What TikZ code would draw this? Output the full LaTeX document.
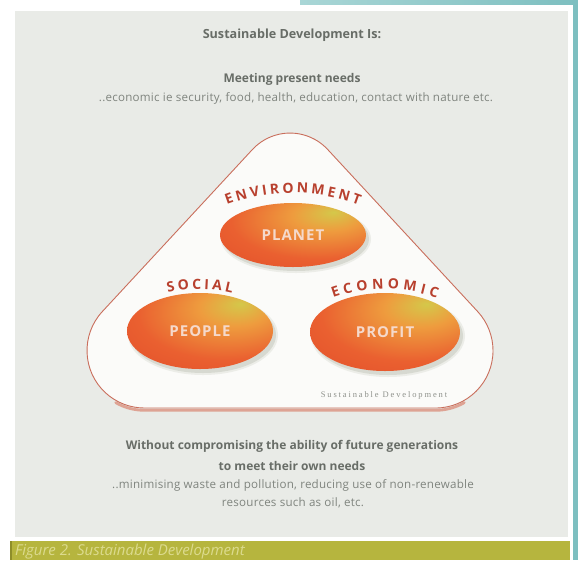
\documentclass[tikz,border=0pt]{standalone}
\usepackage{fontspec}
\setmainfont{Open Sans}
\newfontfamily\smallserif{Liberation Serif}
\usetikzlibrary{decorations.text,shapes.geometric}

\definecolor{panelgray}{HTML}{E9EBE7}
\definecolor{stripteal}{HTML}{7DBFC0}
\definecolor{striptealb}{HTML}{A9D6D6}
\definecolor{barolive}{HTML}{B6B53E}
\definecolor{barolivedark}{HTML}{8E8E2A}
\definecolor{captiontext}{HTML}{DCDB8E}
\definecolor{headtext}{HTML}{686D67}
\definecolor{bodytext}{HTML}{7F847E}
\definecolor{trianglefill}{HTML}{FBFBF9}
\definecolor{triangleline}{HTML}{C96E5C}
\definecolor{triangleband}{HTML}{DEA394}
\definecolor{labelred}{HTML}{B8402E}
\definecolor{orbhi}{HTML}{D4C84A}
\definecolor{orbmid}{HTML}{EE9C3E}
\definecolor{orbbody}{HTML}{EA6030}
\definecolor{orbedge}{HTML}{DE4628}
\definecolor{orbtext}{HTML}{F5D9CB}
\definecolor{orbshadow}{HTML}{A9AE9C}
\definecolor{notegray}{HTML}{8E918B}

% glossy orange ellipse, highlight towards the upper right
\pgfdeclareradialshading{orb}{\pgfpoint{14bp}{18bp}}{%
  color(0bp)=(orbhi); color(12bp)=(orbmid); color(30bp)=(orbbody);
  color(55bp)=(orbedge); color(80bp)=(orbedge)}

% rounded triangle outline
\def\trianglepath{(144.4,-408) -- (435.6,-408)
  arc[start angle=-90, end angle=42.8, radius=57.4] -- (327.7,-149.5)
  arc[start angle=42.8, end angle=137.2, radius=51.3] -- (102.3,-311.6)
  arc[start angle=137.2, end angle=270, radius=57.4] -- cycle}

% base of the triangle, for the soft band beneath it
\def\trianglebase{(115.7,-400.3) arc[start angle=240, end angle=270, radius=57.4]
  -- (435.6,-408) arc[start angle=-90, end angle=-60, radius=57.4]}

\tikzset{
  headline/.style={text=headtext, font=\bfseries\fontsize{12}{13}\selectfont, inner sep=0pt},
  bodyline/.style={text=bodytext, font=\fontsize{11.6}{13}\selectfont\addfontfeatures{LetterSpace=2}, inner sep=0pt},
  orb/.style={ellipse, inner sep=0pt, shade, shading=orb, text=orbtext,
    font=\bfseries\fontsize{15}{15}\selectfont\addfontfeatures{LetterSpace=7}},
  arclabel/.style={decorate, decoration={text along path, text align={fit to path},
    text color=labelred, text={|\bfseries\fontsize{14}{14}\selectfont|#1}}},
}

\begin{document}
\begin{tikzpicture}[x=1pt,y=1pt]
\useasboundingbox (0,0) rectangle (578,-560);
\fill[white] (0,0) rectangle (578,-560);

% frame strips
\shade[left color=striptealb, right color=stripteal] (300,0) rectangle (578,-4);
\fill[stripteal] (573,0) rectangle (578,-560);

% panel
\fill[panelgray] (15,-11) rectangle (568,-537);

% caption bar
\fill[barolive] (10,-541) rectangle (570,-560);
\fill[barolivedark] (10,-541) rectangle (12,-560);
\node[anchor=west, inner sep=0pt, text=captiontext,
  font=\itshape\fontsize{15}{15}\selectfont] (caption) at (15,-552)
  {Figure 2. Sustainable Development};

% headings
\node[headline, font=\bfseries\fontsize{12.6}{13}\selectfont] (title) at (292,-35) {Sustainable Development Is:};
\node[headline] (meet) at (292,-79) {Meeting present needs};
\node[bodyline] (meetnote) at (296,-98)
  {..economic ie security, food, health, education, contact with nature etc.};

% triangle with soft band beneath its base
\draw[triangleband, line width=2.8pt, line cap=round, shift={(0,-2.3)}] \trianglebase;
\filldraw[fill=trianglefill, draw=triangleline, line width=0.9pt] \trianglepath;

% ellipse positions
\coordinate (cplanet) at (293,-235);
\coordinate (cpeople) at (200,-331);
\coordinate (cprofit) at (385,-332);

% soft shadows
\foreach \c/\rx/\ry in {cplanet/73/32, cpeople/73/38, cprofit/75/39}{
  \fill[orbshadow, opacity=0.18] ([shift={(3,-4)}]\c) ellipse[x radius=\rx+2, y radius=\ry+2];
  \fill[orbshadow, opacity=0.30] ([shift={(3,-4)}]\c) ellipse[x radius=\rx, y radius=\ry];
}

\node[orb, minimum width=146pt, minimum height=64pt] (planet) at (cplanet) {PLANET};
\node[orb, minimum width=146pt, minimum height=76pt] (people) at (cpeople) {PEOPLE};
\node[orb, minimum width=150pt, minimum height=78pt] (profit) at (cprofit) {PROFIT};

% curved headings
\path[arclabel=ENVIRONMENT] (227.0,-205.0) arc[start angle=110.6, end angle=69.4, radius=187.5];
\path[arclabel=SOCIAL] (168.0,-293.0) arc[start angle=104.25, end angle=75.75, radius=130];
\path[arclabel=ECONOMIC] (333.1,-298.0) arc[start angle=109.6, end angle=70.4, radius=154.7];

\node[inner sep=0pt, text=notegray,
  font=\smallserif\fontsize{8.5}{9}\selectfont\addfontfeatures{LetterSpace=22}]
  (note) at (384,-395) {Sustainable Development};

% closing text
\node[headline] (without) at (292,-446) {Without compromising the ability of future generations};
\node[headline] (own) at (292,-466) {to meet their own needs};
\node[bodyline] (waste) at (293,-485) {..minimising waste and pollution, reducing use of non-renewable};
\node[bodyline] (oil) at (293,-503) {resources such as oil, etc.};
\end{tikzpicture}
\end{document}
